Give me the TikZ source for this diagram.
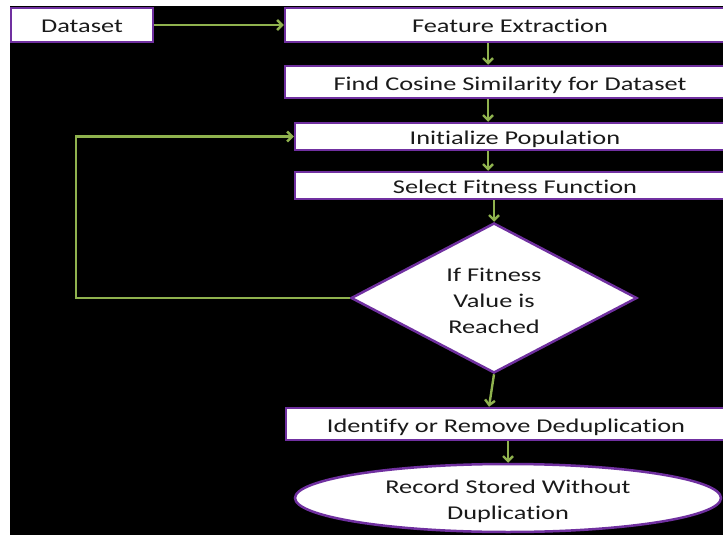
\documentclass[tikz,border=0pt]{standalone}
\usepackage{fontspec}
\setmainfont[FakeStretch=1.35,RawFeature=-liga]{Carlito}
\usetikzlibrary{shapes.geometric,arrows.meta,calc}
\definecolor{frame}{HTML}{7030A0}
\definecolor{flow}{HTML}{8FB24E}
\definecolor{ink}{HTML}{1A1A1A}
\begin{document}
\begin{tikzpicture}[x=1pt,y=-1pt,
  boxfont/.style={text=ink,font=\fontsize{19.5}{26}\selectfont},
  box/.style={draw=frame,line width=2.5pt,fill=white,inner sep=0pt,boxfont,
    text height=16pt,text depth=0pt},
  shapebox/.style={draw=frame,line width=2.5pt,fill=white,inner sep=0pt},
  link/.style={draw=flow,line width=2.4pt,
    -{Straight Barb[length=5pt,width=10pt,line width=2.4pt]}}]
\useasboundingbox (0,0) rectangle (723,535);
\fill[white] (0,0) rectangle (723,535);
\fill[black] (10,6) rectangle (723,535);
\begin{scope}
\clip (10,6) rectangle (723,535);

% process steps
\node[box,minimum width=142pt,minimum height=34pt] (data) at (82,25) {Dataset};
\node[box,minimum width=450pt,minimum height=34pt] (feat) at (510,25) {Feature Extraction};
\node[box,minimum width=450pt,minimum height=32pt] (cos) at (510,82) {Find Cosine Similarity for Dataset};
\node[box,minimum width=440pt,minimum height=27pt] (init) at (515,136.5) {Initialize Population};
\node[box,minimum width=440pt,minimum height=27pt] (sel) at (515,185.5) {Select Fitness Function};
\node[shapebox,diamond,shape aspect=1.9,minimum width=286pt,minimum height=150pt,
  label={[boxfont,align=center,yshift=-3pt]center:{If Fitness\\Value is\\Reached}}]
  (dia) at (494,298) {};
\node[box,minimum width=440pt,minimum height=32pt] (idn) at (506,424) {Identify or Remove Deduplication};
\node[shapebox,ellipse,minimum width=426pt,minimum height=68pt,
  label={[boxfont,align=center,yshift=-3pt]center:{Record Stored Without\\Duplication}}]
  (ell) at (508,498) {};

% guide coordinates for vertical runs
\coordinate (spine) at (488,0);
\coordinate (loopx) at (76,0);

% connectors
\draw[link] (data.east) -- (feat.west);
\draw[link] (spine |- feat.south) -- (spine |- cos.north);
\draw[link] (spine |- cos.south) -- (spine |- init.north);
\draw[link] (spine |- init.south) -- (spine |- sel.north);
\draw[link] (dia.north |- sel.south) -- (dia.north);
\draw[link] (dia.south) -- ($(idn.north)+(-17,0)$);
\draw[link] (ell.north |- idn.south) -- (ell.north);
\draw[link] (dia.west) -- (dia.west -| loopx) |- (init.west);
\end{scope}
\end{tikzpicture}
\end{document}
